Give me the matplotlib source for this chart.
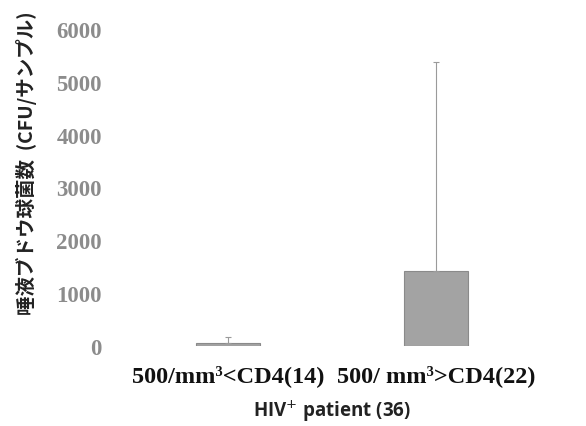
import matplotlib
matplotlib.use("Agg")
import matplotlib.pyplot as plt
import numpy as np

# values
categories = ["500/mm³<CD4(14)", "500/ mm³>CD4(22)"]
means = [55, 1420]
upper_err = [115, 3960]
yticks = [0, 1000, 2000, 3000, 4000, 5000, 6000]

fig = plt.figure(figsize=(5.86, 4.27), dpi=100)
ax = fig.add_axes([124 / 586, 1 - 347 / 427, 416 / 586, 317 / 427])

x = np.arange(len(categories))
ax.bar(x, means, width=0.31, color="#a3a3a3", edgecolor="#8a8a8a", linewidth=0.8)
ax.errorbar(x, means, yerr=[np.zeros(len(means)), upper_err], fmt="none",
            ecolor="#9a9a9a", elinewidth=0.8, capsize=2, capthick=0.8)

ax.set_xlim(-0.5, 1.5)
ax.set_ylim(0, 6000)
ax.set_yticks(yticks)
ax.set_yticklabels([str(v) for v in yticks], family="Liberation Serif",
                   fontweight="bold", fontsize=16.5, color="#8c8c8c")
ax.set_xticks(x)
ax.set_xticklabels(categories, family="Liberation Serif", fontweight="bold",
                   fontsize=17.5, color="#111111")
ax.tick_params(length=0)
ax.tick_params(axis="y", pad=16)
ax.tick_params(axis="x", pad=13)
for s in ax.spines.values():
    s.set_visible(False)

ax.set_xlabel("HIV$^{+}$ patient (36)", family=["Open Sans", "DejaVu Sans"],
              fontweight="bold", fontsize=13.5, color="#222222")
ax.xaxis.set_label_coords(0.5, -0.163)
ax.set_ylabel("唾液ブドウ球菌数  (CFU/サンプル)",
              family=["Noto Sans CJK JP", "DejaVu Sans"], fontweight="bold",
              fontsize=14, color="#222222")
ax.yaxis.set_label_coords(-0.21, 0.58)

fig.savefig("out.png", dpi=100)
